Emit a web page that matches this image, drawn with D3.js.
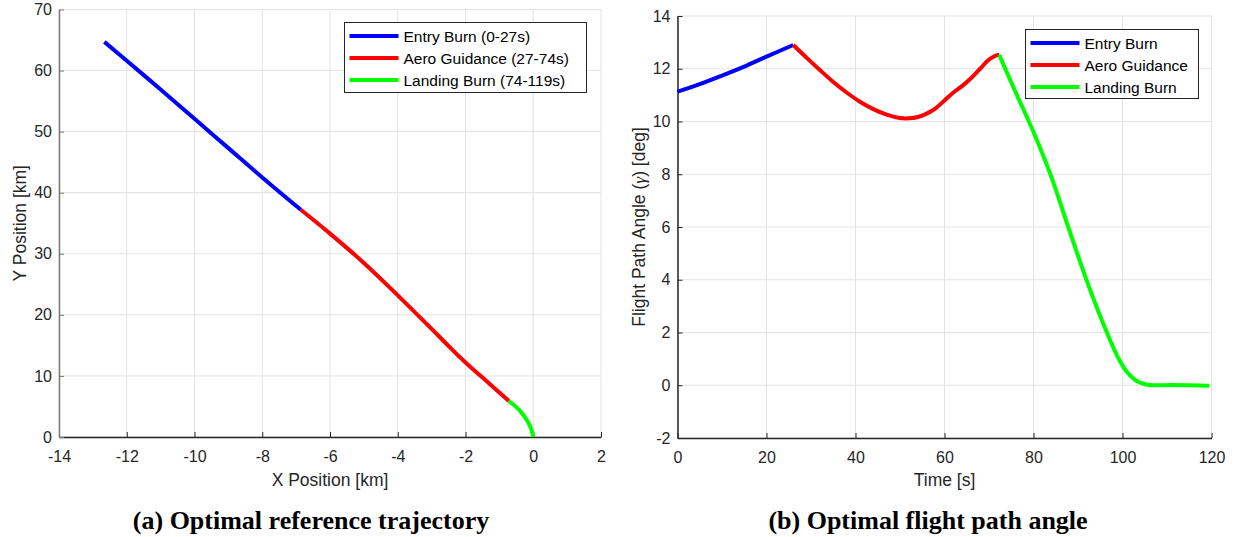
<!DOCTYPE html>
<html>
<head>
<meta charset="utf-8">
<script src="https://cdn.jsdelivr.net/npm/d3@7"></script>
<style>
  body { margin: 0; background: #fff; }
  svg { display: block; font-family: "Liberation Sans", Arial, sans-serif; }
</style>
</head>
<body>
<svg width="1240" height="537"></svg>
<script>
// (a) trajectory, [x km, y km]
const entryBurnXY = [[-12.66, 64.7], [-12, 61.6], [-11, 56.9], [-10, 52.1], [-9, 47.3], [-8, 42.5], [-6.86, 37.2]];
const aeroXY = [[-6.86, 37.2], [-6, 33.3], [-5, 28.5], [-4, 23.2], [-3, 17.7], [-2.5, 14.9], [-2, 12.2], [-1.35, 9.0], [-0.72, 5.9]];
const landingXY = [[-0.72, 5.9], [-0.41, 4.4], [-0.16, 2.5], [-0.05, 1.15], [0, 0]];

// (b) flight path angle, [t s, gamma deg]
const entryBurnT = [[0, 11.13], [5, 11.42], [10, 11.74], [15, 12.08], [20, 12.46], [26, 12.9]];
const aeroT = [[26, 12.9], [29, 12.42], [32, 11.95], [35, 11.5], [38, 11.1], [41, 10.75], [44, 10.47], [47, 10.26], [50, 10.13], [52, 10.12], [54, 10.17], [56, 10.3], [58, 10.5], [60, 10.8], [62, 11.1], [64, 11.35], [66, 11.65], [68, 12.0], [70, 12.35], [71.5, 12.5], [72.3, 12.52]];
const landingT = [[72.3, 12.52], [76, 11.1], [80, 9.6], [84, 7.9], [88, 5.9], [92, 3.95], [96, 2.2], [99, 1.05], [101, 0.5], [103, 0.18], [105, 0.04], [107, 0.0], [111, 0.01], [115, 0.0], [119.5, -0.02]];

const xTicksA = [-14, -12, -10, -8, -6, -4, -2, 0, 2];
const yTicksA = [0, 10, 20, 30, 40, 50, 60, 70];
const xTicksB = [0, 20, 40, 60, 80, 100, 120];
const yTicksB = [-2, 0, 2, 4, 6, 8, 10, 12, 14];

const legendA = ["Entry Burn (0-27s)", "Aero Guidance (27-74s)", "Landing Burn (74-119s)"];
const legendB = ["Entry Burn", "Aero Guidance", "Landing Burn"];
const colors = ["#0000ff", "#ff0000", "#00ff00"];

const svg = d3.select("svg");
const axisColor = "#262626";
const gridColor = "#e3e3e3";

function drawPanel(cfg) {
  const { x, y, xTicks, yTicks, series, legend, lg, xLabel, yLabel, yLabelX, caption, captionX, yAxisColor } = cfg;
  const g = svg.append("g");
  const [x0, x1] = x.range();
  const [y0, y1] = y.range();

  // grid
  g.selectAll(".gx").data(xTicks).enter().append("line")
    .attr("x1", (d) => x(d)).attr("x2", (d) => x(d))
    .attr("y1", y0).attr("y2", y1)
    .attr("stroke", gridColor).attr("stroke-width", 1);
  g.selectAll(".gy").data(yTicks).enter().append("line")
    .attr("x1", x0).attr("x2", x1)
    .attr("y1", (d) => y(d)).attr("y2", (d) => y(d))
    .attr("stroke", gridColor).attr("stroke-width", 1);

  // axes, ticks pointing inward, plain hyphen for negatives
  const fmt = (d) => String(d);
  const xAxis = g.append("g").attr("transform", `translate(0,${y0})`)
    .call(d3.axisBottom(x).tickValues(xTicks).tickFormat(fmt).tickSizeInner(-5).tickSizeOuter(0).tickPadding(14));
  const yAxis = g.append("g").attr("transform", `translate(${x0},0)`)
    .call(d3.axisLeft(y).tickValues(yTicks).tickFormat(fmt).tickSizeInner(-5).tickSizeOuter(0).tickPadding(7));
  xAxis.select(".domain").attr("stroke", axisColor).attr("stroke-width", 1.5);
  yAxis.select(".domain").attr("stroke", yAxisColor).attr("stroke-width", 1.5);
  xAxis.selectAll(".tick line").attr("stroke", axisColor);
  yAxis.selectAll(".tick line").attr("stroke", yAxisColor);
  [xAxis, yAxis].forEach((a) => {
    a.attr("font-size", null).attr("font-family", null);
    a.selectAll(".tick text").attr("fill", axisColor).style("font-size", "16px");
  });

  // series
  const line = d3.line().x((d) => x(d[0])).y((d) => y(d[1])).curve(d3.curveCatmullRom.alpha(0.5));
  g.selectAll(".series").data(series).enter().append("path")
    .attr("d", line)
    .attr("fill", "none")
    .attr("stroke", (d, i) => colors[i])
    .attr("stroke-width", 4)
    .attr("stroke-linejoin", "round");

  // legend
  const lgG = g.append("g");
  lgG.append("rect")
    .attr("x", lg.x).attr("y", lg.y).attr("width", lg.w).attr("height", lg.h)
    .attr("fill", "#fff").attr("stroke", axisColor).attr("stroke-width", 1);
  const rows = lgG.selectAll(".row").data(legend).enter().append("g")
    .attr("transform", (d, i) => `translate(${lg.x},${lg.y + 13.5 + i * 22})`);
  rows.append("line")
    .attr("x1", 5).attr("x2", 54).attr("y1", 0).attr("y2", 0)
    .attr("stroke", (d, i) => colors[i]).attr("stroke-width", 4);
  rows.append("text")
    .attr("x", 59).attr("y", 5.5)
    .attr("fill", "#000").style("font-size", "15.5px")
    .text((d) => d);

  // labels
  g.append("text")
    .attr("x", (x0 + x1) / 2).attr("y", 486)
    .attr("text-anchor", "middle").attr("fill", axisColor).style("font-size", "17.5px")
    .text(xLabel);
  g.append("text")
    .attr("transform", `translate(${yLabelX},${(y0 + y1) / 2}) rotate(-90)`)
    .attr("text-anchor", "middle").attr("fill", axisColor).style("font-size", "17.5px")
    .call(yLabel);
  g.append("text")
    .attr("x", captionX).attr("y", 529)
    .attr("text-anchor", "middle")
    .style("font-family", "'Liberation Serif', 'Times New Roman', serif")
    .style("font-weight", "bold").style("font-size", "26px")
    .text(caption);
}

drawPanel({
  x: d3.scaleLinear().domain([-14, 2]).range([59, 601]),
  y: d3.scaleLinear().domain([0, 70]).range([437, 9.5]),
  xTicks: xTicksA,
  yTicks: yTicksA,
  series: [entryBurnXY, aeroXY, landingXY],
  legend: legendA,
  lg: { x: 344.5, y: 22.5, w: 242, h: 70 },
  xLabel: "X Position [km]",
  yLabel: (t) => t.text("Y Position [km]"),
  yLabelX: 26,
  caption: "(a) Optimal reference trajectory",
  captionX: 311,
  yAxisColor: "#7a7a7a",
});

drawPanel({
  x: d3.scaleLinear().domain([0, 120]).range([677.5, 1211.5]),
  y: d3.scaleLinear().domain([-2, 14]).range([438, 16]),
  xTicks: xTicksB,
  yTicks: yTicksB,
  series: [entryBurnT, aeroT, landingT],
  legend: legendB,
  lg: { x: 1025.5, y: 29.5, w: 173, h: 69 },
  xLabel: "Time [s]",
  yLabel: (t) => {
    t.append("tspan").text("Flight Path Angle (");
    t.append("tspan").style("font-style", "italic").style("font-family", "'Liberation Serif', serif").text("γ");
    t.append("tspan").text(") [deg]");
  },
  yLabelX: 645,
  caption: "(b) Optimal flight path angle",
  captionX: 928,
  yAxisColor: axisColor,
});
</script>
</body>
</html>
